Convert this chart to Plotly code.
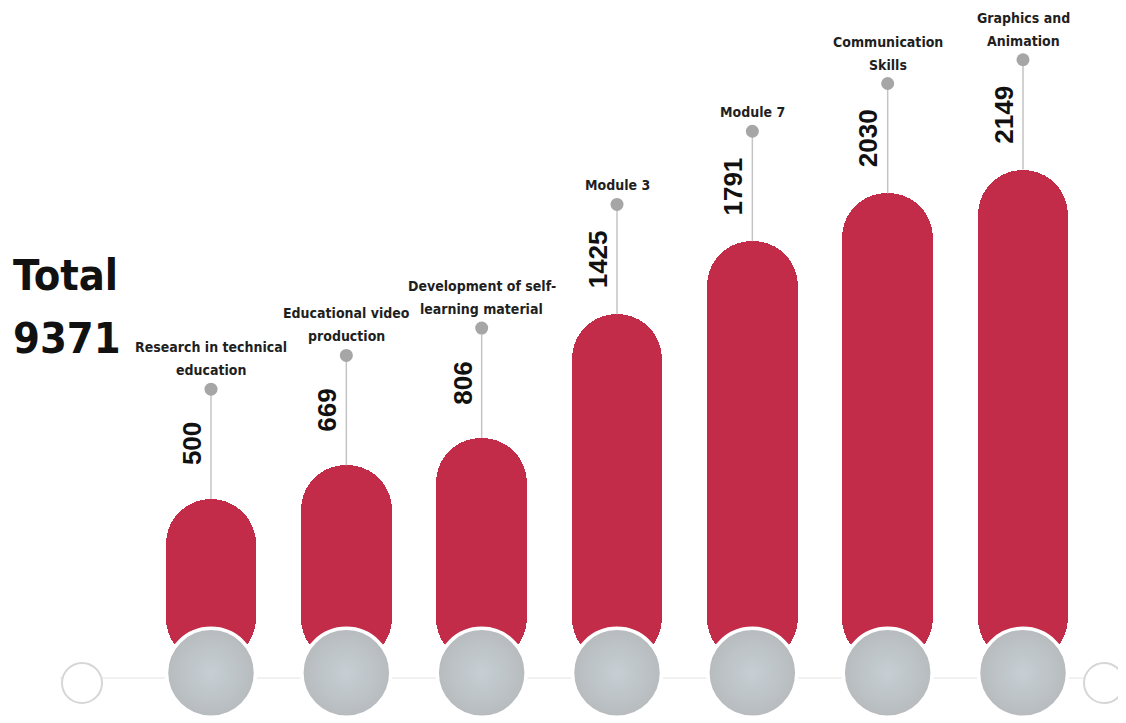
import plotly.graph_objects as go

# ---- data ----
categories = [
    "Research in technical<br>education",
    "Educational video<br>production",
    "Development of self-<br>learning material",
    "Module 3",
    "Module 7",
    "Communication<br>Skills",
    "Graphics and<br>Animation",
]
values = [500, 669, 806, 1425, 1791, 2030, 2149]
total_label = "Total"
total_value = "9371"

# ---- style / layout constants ----
W, H = 1118, 715          # page body has an 8px margin
BAR_COLOR = "#C22C48"
PIN_COLOR = "#A6A6A6"
STEM_COLOR = "#C4C4C4"
LABEL_FONT = "DejaVu Sans Condensed, Liberation Sans Narrow, Arial Narrow, sans-serif"
VALUE_FONT = "Liberation Sans, Arial, sans-serif"
PIN_OFFSET = 550      # value units between bar top and pin
BAR_BASE = -320
CIRCLE_Y = -370
X_RANGE = [-1.500, 6.761]
Y_RANGE = [-621, 2958]
LINE_GAP = 23         # px between label lines

xs = list(range(len(values)))
pins = [v + PIN_OFFSET for v in values]

fig = go.Figure()

# stems from bar tops to pins
stem_x, stem_y = [], []
for x, v, p in zip(xs, values, pins):
    stem_x += [x, x, None]
    stem_y += [v, p, None]
fig.add_trace(go.Scatter(x=stem_x, y=stem_y, mode="lines",
                         line=dict(color=STEM_COLOR, width=1.5),
                         hoverinfo="skip", showlegend=False))

# bars with rounded tops
fig.add_trace(go.Bar(x=xs, y=[v - BAR_BASE for v in values], base=BAR_BASE,
                     width=0.672,
                     marker=dict(color=BAR_COLOR, cornerradius="50%",
                                 line=dict(width=0)),
                     hoverinfo="skip", showlegend=False))

# grey circles at the foot of each bar
fig.add_trace(go.Scatter(x=xs, y=[CIRCLE_Y] * len(xs), mode="markers",
                         marker=dict(size=89, color="#B7BBBE",
                                     gradient=dict(type="radial", color="#C6CFD4"),
                                     line=dict(color="white", width=3.5)),
                         hoverinfo="skip", showlegend=False))

# pins
fig.add_trace(go.Scatter(x=xs, y=pins, mode="markers",
                         marker=dict(size=13, color=PIN_COLOR),
                         hoverinfo="skip", showlegend=False))

annotations = []
for x, v, p, c in zip(xs, values, pins, categories):
    lines = c.split("<br>")
    for j, line in enumerate(reversed(lines)):
        annotations.append(dict(x=x, y=p, xref="x", yref="y", text=line,
                                showarrow=False, yanchor="bottom",
                                yshift=9 + j * LINE_GAP, align="center",
                                font=dict(family=LABEL_FONT, size=14,
                                          color="#1f1f1f", weight="bold")))
    annotations.append(dict(x=x, y=v + PIN_OFFSET / 2, xref="x", yref="y",
                            text=str(v), showarrow=False, textangle=-90,
                            xshift=-19,
                            font=dict(family=VALUE_FONT, size=26,
                                      color="#111111", weight="bold")))

annotations.append(dict(x=3 / W, y=1 - 267 / H, xref="paper", yref="paper",
                        text=total_label, showarrow=False, xanchor="left",
                        yanchor="middle",
                        font=dict(family=LABEL_FONT, size=43, color="#111111",
                                  weight="bold")))
annotations.append(dict(x=3 / W, y=1 - 330 / H, xref="paper", yref="paper",
                        text=total_value, showarrow=False, xanchor="left",
                        yanchor="middle",
                        font=dict(family=LABEL_FONT, size=43, color="#111111",
                                  weight="bold")))

shapes = [
    dict(type="line", xref="paper", yref="paper", x0=52 / W, x1=1092 / W,
         y0=1 - 670 / H, y1=1 - 670 / H, line=dict(color="#F1F1F1", width=2),
         layer="below"),
    dict(type="circle", xref="paper", yref="paper",
         x0=(74 - 20) / W, x1=(74 + 20) / W, y0=1 - (675 + 20) / H,
         y1=1 - (675 - 20) / H, line=dict(color="#D6D6D6", width=2),
         fillcolor="white", layer="below"),
    dict(type="circle", xref="paper", yref="paper",
         x0=(1096 - 20) / W, x1=(1096 + 20) / W, y0=1 - (675 + 20) / H,
         y1=1 - (675 - 20) / H, line=dict(color="#D6D6D6", width=2),
         fillcolor="white", layer="below"),
]

fig.update_layout(
    width=W, height=H,
    margin=dict(l=0, r=0, t=0, b=0),
    paper_bgcolor="white", plot_bgcolor="white",
    xaxis=dict(range=X_RANGE, visible=False, fixedrange=True),
    yaxis=dict(range=Y_RANGE, visible=False, fixedrange=True),
    annotations=annotations, shapes=shapes,
    showlegend=False, bargap=0,
)

fig.write_html("out.html", config={"displayModeBar": False})
